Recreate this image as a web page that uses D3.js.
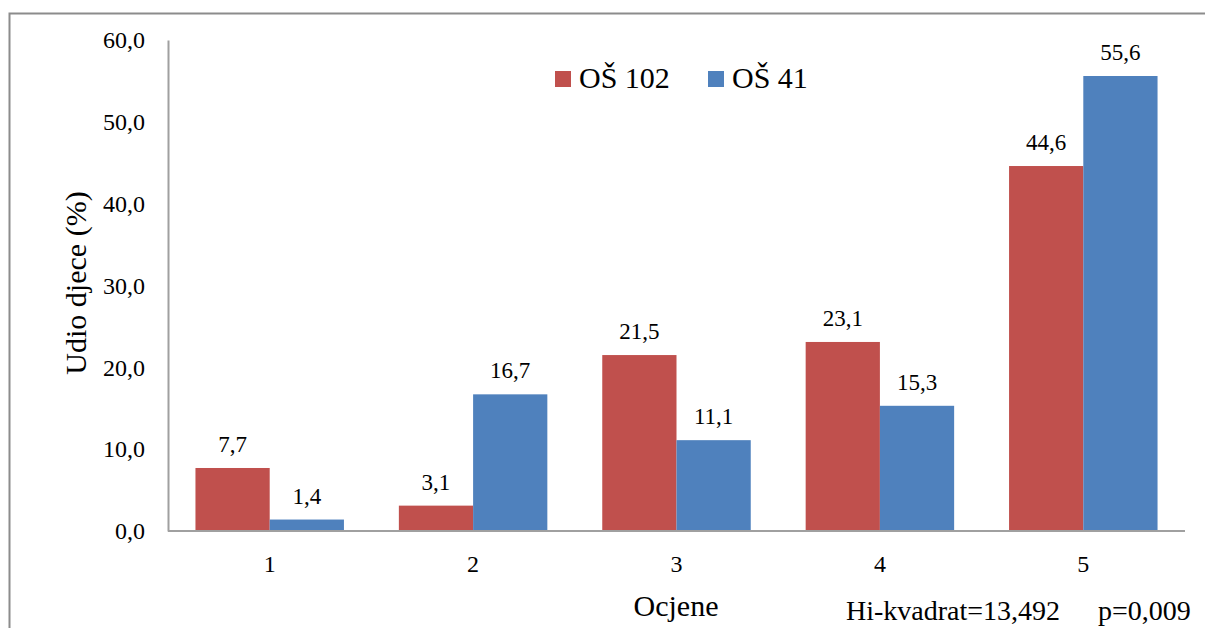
<!DOCTYPE html>
<html>
<head>
<meta charset="utf-8">
<script src="https://cdn.jsdelivr.net/npm/d3@7"></script>
<style>
  body { margin: 0; background: #fff; }
  svg text { font-family: 'Liberation Serif', 'DejaVu Serif', serif; fill: #000; }
</style>
</head>
<body>
<svg width="1205" height="628"></svg>
<script>
// Data
let grades = ['1', '2', '3', '4', '5'];
let series = ['OŠ 102', 'OŠ 41'];
let os102 = [7.7, 3.1, 21.5, 23.1, 44.6];
let os41 = [1.4, 16.7, 11.1, 15.3, 55.6];
let yTicks = [0, 10, 20, 30, 40, 50, 60];
let colors = ['#C0504D', '#4F81BD'];

let serif = "'Liberation Serif', 'DejaVu Serif', serif";
let svg = d3.select('svg');

// Outer frame of the chart area
svg.append('rect')
  .attr('x', 9.5).attr('y', 13.5)
  .attr('width', 1220).attr('height', 700)
  .attr('fill', 'none')
  .attr('stroke', '#8c8c8c')
  .attr('stroke-width', 2);

let plotLeft = 168, plotRight = 1185, plotTop = 40, plotBottom = 531;

let x = d3.scaleBand()
  .domain(grades)
  .range([plotLeft, plotRight])
  .paddingInner(0.27)
  .paddingOuter(0.135);

let xInner = d3.scaleBand()
  .domain(series)
  .range([0, x.bandwidth()]);

let y = d3.scaleLinear()
  .domain([0, 60])
  .range([plotBottom, plotTop]);

let fmt = v => d3.format('.1f')(v).replace('.', ',');

// Y axis
let yAxis = svg.append('g')
  .attr('transform', 'translate(' + plotLeft + ',0)')
  .call(d3.axisLeft(y).tickValues(yTicks).tickSize(0).tickPadding(23).tickFormat(fmt))
  .attr('font-family', serif)
  .attr('font-size', 24);
yAxis.select('.domain').attr('stroke', '#a0a0a0').attr('stroke-width', 2);

// X axis
let xAxis = svg.append('g')
  .attr('transform', 'translate(0,' + plotBottom + ')')
  .call(d3.axisBottom(x).tickSize(0).tickPadding(24))
  .attr('font-family', serif)
  .attr('font-size', 24);
xAxis.select('.domain').attr('stroke', '#a0a0a0').attr('stroke-width', 2)
  .attr('d', 'M' + plotLeft + ',0H' + plotRight);

// Bars
let rows = grades.map((g, i) => ({ grade: g, values: [os102[i], os41[i]] }));

let groups = svg.append('g').selectAll('g')
  .data(rows)
  .enter().append('g')
  .attr('transform', d => 'translate(' + x(d.grade) + ',0)');

groups.selectAll('rect')
  .data(d => d.values.map((v, j) => ({ key: series[j], value: v, j: j })))
  .enter().append('rect')
  .attr('x', d => xInner(d.key))
  .attr('y', d => y(d.value))
  .attr('width', xInner.bandwidth())
  .attr('height', d => plotBottom - y(d.value) - 1)
  .attr('fill', d => colors[d.j]);

groups.selectAll('text.lbl')
  .data(d => d.values.map((v, j) => ({ key: series[j], value: v })))
  .enter().append('text')
  .attr('class', 'lbl')
  .attr('x', d => xInner(d.key) + xInner.bandwidth() / 2)
  .attr('y', d => y(d.value) - 16)
  .attr('text-anchor', 'middle')
  .attr('font-family', serif)
  .attr('font-size', 23)
  .text(d => fmt(d.value));

// Legend
let legendX = [555, 708];
series.forEach((s, i) => {
  svg.append('rect')
    .attr('x', legendX[i]).attr('y', 71)
    .attr('width', 16).attr('height', 16)
    .attr('fill', colors[i]);
  svg.append('text')
    .attr('x', legendX[i] + 24).attr('y', 88)
    .attr('font-family', serif)
    .attr('font-size', 30)
    .text(s);
});

// Axis titles
svg.append('text')
  .attr('transform', 'translate(86,283) rotate(-90)')
  .attr('text-anchor', 'middle')
  .attr('font-family', serif)
  .attr('font-size', 30)
  .text('Udio djece (%)');

svg.append('text')
  .attr('x', 676).attr('y', 616)
  .attr('text-anchor', 'middle')
  .attr('font-family', serif)
  .attr('font-size', 30)
  .text('Ocjene');

// Chi-square note
svg.append('text')
  .attr('x', 846).attr('y', 620)
  .attr('font-family', serif)
  .attr('font-size', 28)
  .text('Hi-kvadrat=13,492');

svg.append('text')
  .attr('x', 1098).attr('y', 620)
  .attr('font-family', serif)
  .attr('font-size', 28)
  .text('p=0,009');
</script>
</body>
</html>
